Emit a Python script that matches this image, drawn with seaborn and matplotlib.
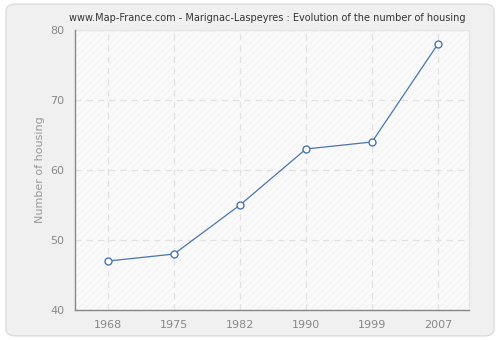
import matplotlib
matplotlib.use("Agg")
import matplotlib.pyplot as plt
import seaborn as sns
import pandas as pd
from matplotlib.patches import FancyBboxPatch

years = ["1968", "1975", "1982", "1990", "1999", "2007"]
housing = [47, 48, 55, 63, 64, 78]
y_ticks = [40, 50, 60, 70, 80]

df = pd.DataFrame({"pos": range(len(years)), "housing": housing})

sns.set_style("white")
plt.rcParams["font.family"] = ["DejaVu Sans"]
plt.rcParams["hatch.linewidth"] = 0.5

fig = plt.figure(figsize=(5, 3.4), dpi=100)
fig.patch.set_facecolor("white")
bg = FancyBboxPatch((0.012, 0.012), 0.976, 0.976, boxstyle="round,pad=0,rounding_size=0.02",
                    transform=fig.transFigure, facecolor="#f0f0f0", edgecolor="#dcdcdc", linewidth=1,
                    zorder=-10)
fig.patches.append(bg)

ax = fig.add_axes([0.15, 0.088, 0.788, 0.824])
ax.set_facecolor("#fafafa")
ax.fill_between([-0.5, 5.47], 40, 80, facecolor="none", edgecolor="#f0f0f0", hatch="/////", linewidth=0, zorder=0)

sns.lineplot(data=df, x="pos", y="housing", ax=ax, color="#4a76ad", linewidth=0.9,
             marker="o", markersize=5, markerfacecolor="white", markeredgecolor="#4a76ad",
             markeredgewidth=1, zorder=3)

ax.set_xlim(-0.5, 5.47)
ax.set_ylim(40, 80)
ax.set_xticks(range(len(years)))
ax.set_xticklabels(years)
ax.set_yticks(y_ticks)
ax.grid(True, color="#e2e2e2", linestyle=(0, (5, 4)), linewidth=0.9)
ax.set_axisbelow(True)
for s in ["top", "right"]:
    ax.spines[s].set_visible(False)
for s in ["left", "bottom"]:
    ax.spines[s].set_color("#888888")
    ax.spines[s].set_linewidth(1)
ax.tick_params(axis="both", colors="#888888", labelsize=8, length=4, width=1, direction="out", labelcolor="#888888")
ax.set_xlabel("")
ax.set_ylabel("Number of housing", color="#999999", fontsize=8)
fig.text(0.534, 0.947, "www.Map-France.com - Marignac-Laspeyres : Evolution of the number of housing",
         fontsize=7.0, color="#333333", ha="center", va="center")
ax.plot([-0.5, 5.47, 5.47], [80, 80, 40], color="#e6e6e6", linewidth=1, clip_on=False, zorder=1)

fig.savefig("out.png", dpi=100, facecolor=fig.get_facecolor())
